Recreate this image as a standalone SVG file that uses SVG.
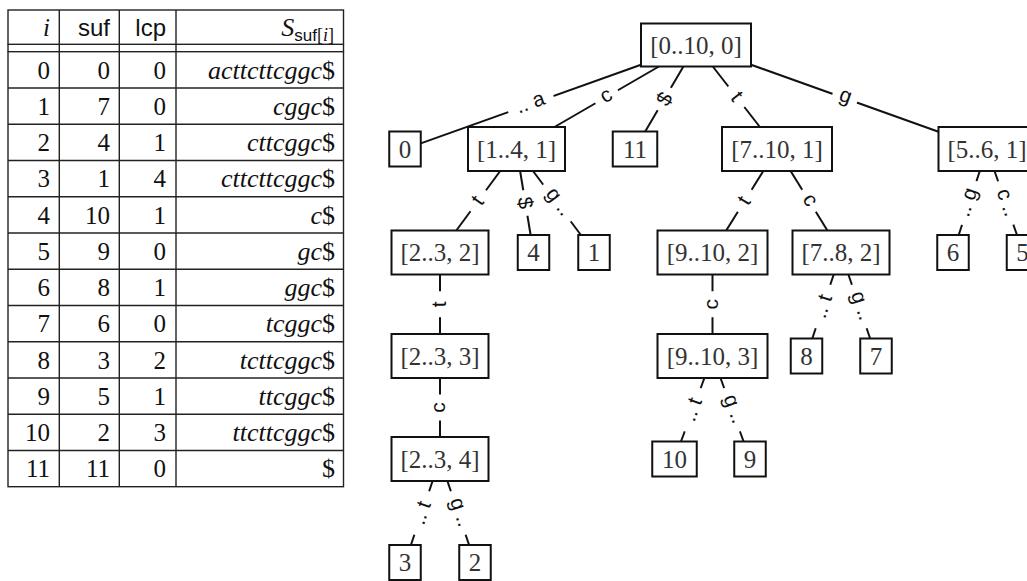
<svg xmlns="http://www.w3.org/2000/svg" width="1027" height="581" viewBox="0 0 1027 581">
<style>
.box{fill:#fff;stroke:#111;stroke-width:2}
.edge{stroke:#111;stroke-width:2;fill:none}
.nt{font-family:"Liberation Serif",serif;font-size:25px;fill:#333;text-anchor:middle}
.lbl{font-family:"Liberation Sans",sans-serif;font-size:21px;fill:#111;text-anchor:middle}
.lbg{fill:#fff}
.tl{stroke:#222;stroke-width:1.4;fill:none}
.td{font-family:"Liberation Serif",serif;font-size:25px;fill:#111;text-anchor:end}
.ss{font-size:26px}
.it{font-style:italic}
.sf{font-family:"Liberation Sans",sans-serif;font-size:24px}
</style>
<rect width="1027" height="581" fill="#fff"/>
<g id="table">
<rect class="tl" x="8" y="10" width="335.5" height="34.3"/>
<rect class="tl" x="8" y="51.7" width="335.5" height="435"/>
<line class="tl" x1="8" y1="44.3" x2="8" y2="51.7"/>
<line class="tl" x1="343.5" y1="44.3" x2="343.5" y2="51.7"/>
<line class="tl" x1="59.3" y1="10" x2="59.3" y2="486.7"/>
<line class="tl" x1="119.3" y1="10" x2="119.3" y2="486.7"/>
<line class="tl" x1="176" y1="10" x2="176" y2="486.7"/>
<g class="tl">
<line x1="8" y1="87.95" x2="343.5" y2="87.95"/>
<line x1="8" y1="124.2" x2="343.5" y2="124.2"/>
<line x1="8" y1="160.45" x2="343.5" y2="160.45"/>
<line x1="8" y1="196.7" x2="343.5" y2="196.7"/>
<line x1="8" y1="232.95" x2="343.5" y2="232.95"/>
<line x1="8" y1="269.2" x2="343.5" y2="269.2"/>
<line x1="8" y1="305.45" x2="343.5" y2="305.45"/>
<line x1="8" y1="341.7" x2="343.5" y2="341.7"/>
<line x1="8" y1="377.95" x2="343.5" y2="377.95"/>
<line x1="8" y1="414.2" x2="343.5" y2="414.2"/>
<line x1="8" y1="450.45" x2="343.5" y2="450.45"/>
</g>
<text class="td it" x="50" y="36">i</text>
<text class="td sf" x="110" y="36">suf</text>
<text class="td sf" x="166" y="36">lcp</text>
<text class="td" x="334" y="36"><tspan class="it" style="font-size:26px">S</tspan><tspan dy="5" style="font-family:'Liberation Sans',sans-serif;font-size:17px">suf</tspan><tspan style="font-size:18px">[</tspan><tspan class="it" style="font-size:18px">i</tspan><tspan style="font-size:18px">]</tspan></text>
<g class="td">
<text x="50" y="78.5">0</text><text x="110" y="78.5">0</text><text x="166" y="78.5">0</text><text class="ss" x="335" y="78.5"><tspan class="it">acttcttcggc</tspan>$</text>
<text x="50" y="114.75">1</text><text x="110" y="114.75">7</text><text x="166" y="114.75">0</text><text class="ss" x="335" y="114.75"><tspan class="it">cggc</tspan>$</text>
<text x="50" y="151">2</text><text x="110" y="151">4</text><text x="166" y="151">1</text><text class="ss" x="335" y="151"><tspan class="it">cttcggc</tspan>$</text>
<text x="50" y="187.25">3</text><text x="110" y="187.25">1</text><text x="166" y="187.25">4</text><text class="ss" x="335" y="187.25"><tspan class="it">cttcttcggc</tspan>$</text>
<text x="50" y="223.5">4</text><text x="110" y="223.5">10</text><text x="166" y="223.5">1</text><text class="ss" x="335" y="223.5"><tspan class="it">c</tspan>$</text>
<text x="50" y="259.75">5</text><text x="110" y="259.75">9</text><text x="166" y="259.75">0</text><text class="ss" x="335" y="259.75"><tspan class="it">gc</tspan>$</text>
<text x="50" y="296">6</text><text x="110" y="296">8</text><text x="166" y="296">1</text><text class="ss" x="335" y="296"><tspan class="it">ggc</tspan>$</text>
<text x="50" y="332.25">7</text><text x="110" y="332.25">6</text><text x="166" y="332.25">0</text><text class="ss" x="335" y="332.25"><tspan class="it">tcggc</tspan>$</text>
<text x="50" y="368.5">8</text><text x="110" y="368.5">3</text><text x="166" y="368.5">2</text><text class="ss" x="335" y="368.5"><tspan class="it">tcttcggc</tspan>$</text>
<text x="50" y="404.75">9</text><text x="110" y="404.75">5</text><text x="166" y="404.75">1</text><text class="ss" x="335" y="404.75"><tspan class="it">ttcggc</tspan>$</text>
<text x="50" y="441">10</text><text x="110" y="441">2</text><text x="166" y="441">3</text><text class="ss" x="335" y="441"><tspan class="it">ttcttcggc</tspan>$</text>
<text x="50" y="477.25">11</text><text x="110" y="477.25">11</text><text x="166" y="477.25">0</text><text class="ss" x="335" y="477.25">$</text>
</g>
</g>
<g id="connectors">
<g class="edge">
<line x1="641" y1="64.7" x2="420.75" y2="143.4"/>
<line x1="658.9" y1="66.5" x2="554.5" y2="127"/>
<line x1="683.4" y1="66.5" x2="645.2" y2="131.5"/>
<line x1="712.8" y1="66.5" x2="759.9" y2="127"/>
<line x1="751" y1="64.7" x2="938.5" y2="131.7"/>
<line x1="500.2" y1="171" x2="456.3" y2="230.5"/>
<line x1="520.1" y1="171" x2="530.6" y2="235"/>
<line x1="533" y1="171" x2="580.9" y2="235"/>
<line x1="763.3" y1="171" x2="726.2" y2="230.5"/>
<line x1="790.6" y1="171" x2="827.4" y2="230.5"/>
<line x1="979.8" y1="171" x2="958.7" y2="235"/>
<line x1="994.5" y1="171" x2="1017" y2="235"/>
<line x1="440" y1="274.5" x2="440" y2="334"/>
<line x1="440" y1="378" x2="440" y2="437"/>
<line x1="712.5" y1="274.5" x2="712.5" y2="334"/>
<line x1="833.7" y1="274.5" x2="812.3" y2="338.5"/>
<line x1="848.4" y1="274.5" x2="870.1" y2="338.5"/>
<line x1="704.4" y1="378" x2="681" y2="441.5"/>
<line x1="720.5" y1="378" x2="743.6" y2="441.5"/>
<line x1="432.6" y1="481" x2="410.9" y2="545"/>
<line x1="447.4" y1="481" x2="469.1" y2="545"/>
</g>
<g transform="translate(530.9 104.05) rotate(-19.67)"><rect class="lbg" x="-24" y="-11" width="48" height="22"/><text class="lbl" y="5">.. a</text></g>
<g transform="translate(606.7 96.75) rotate(-30.09)"><rect class="lbg" x="-13" y="-11" width="26" height="22"/><text class="lbl" y="5">c</text></g>
<g transform="translate(664.3 99) rotate(-59.6)"><rect class="lbg" x="-13" y="-11" width="26" height="22"/><text class="lbl" y="7">$</text></g>
<g transform="translate(736.3 96.75) rotate(52.09)"><rect class="lbg" x="-13" y="-11" width="26" height="22"/><text class="lbl" y="6">t</text></g>
<g transform="translate(844.75 98.2) rotate(19.67)"><rect class="lbg" x="-13" y="-11" width="26" height="22"/><text class="lbl" y="4">g</text></g>
<g transform="translate(478.25 200.75) rotate(-53.53)"><rect class="lbg" x="-13" y="-11" width="26" height="22"/><text class="lbl" y="6">t</text></g>
<g transform="translate(525.35 203) rotate(80.67)"><rect class="lbg" x="-13" y="-11" width="26" height="22"/><text class="lbl" y="7">$</text></g>
<g transform="translate(556.95 203) rotate(53.18)"><rect class="lbg" x="-23" y="-11" width="46" height="22"/><text class="lbl" y="4">g ..</text></g>
<g transform="translate(744.75 200.75) rotate(-58.07)"><rect class="lbg" x="-13" y="-11" width="26" height="22"/><text class="lbl" y="6">t</text></g>
<g transform="translate(809 200.75) rotate(58.27)"><rect class="lbg" x="-13" y="-11" width="26" height="22"/><text class="lbl" y="5">c</text></g>
<g transform="translate(969.25 203) rotate(-71.81)"><rect class="lbg" x="-23" y="-11" width="46" height="22"/><text class="lbl" y="4">.. g</text></g>
<g transform="translate(1005.75 203) rotate(71.07)"><rect class="lbg" x="-23" y="-11" width="46" height="22"/><text class="lbl" y="5">c ..</text></g>
<g transform="translate(440 304.25) rotate(-90)"><rect class="lbg" x="-13" y="-11" width="26" height="22"/><text class="lbl" y="6">t</text></g>
<g transform="translate(440 407.5) rotate(-90)"><rect class="lbg" x="-13" y="-11" width="26" height="22"/><text class="lbl" y="5">c</text></g>
<g transform="translate(712.5 304.25) rotate(-90)"><rect class="lbg" x="-13" y="-11" width="26" height="22"/><text class="lbl" y="5">c</text></g>
<g transform="translate(823 306.5) rotate(-71.57)"><rect class="lbg" x="-23" y="-11" width="46" height="22"/><text class="lbl" y="6">.. t</text></g>
<g transform="translate(859.25 306.5) rotate(71.3)"><rect class="lbg" x="-23" y="-11" width="46" height="22"/><text class="lbl" y="4">g ..</text></g>
<g transform="translate(692.7 409.75) rotate(-69.75)"><rect class="lbg" x="-23" y="-11" width="46" height="22"/><text class="lbl" y="6">.. t</text></g>
<g transform="translate(732.05 409.75) rotate(70)"><rect class="lbg" x="-23" y="-11" width="46" height="22"/><text class="lbl" y="4">g ..</text></g>
<g transform="translate(421.75 513) rotate(-71.3)"><rect class="lbg" x="-23" y="-11" width="46" height="22"/><text class="lbl" y="6">.. t</text></g>
<g transform="translate(458.25 513) rotate(71.3)"><rect class="lbg" x="-23" y="-11" width="46" height="22"/><text class="lbl" y="4">g ..</text></g>
</g>
<g id="n-root"><rect class="box" x="641" y="23.5" width="110" height="43"/><text class="nt" x="696" y="53.5">[0..10, 0]</text></g>
<g id="n-0"><rect class="box" x="389.25" y="131.5" width="31.5" height="35"/><text class="nt" x="405" y="157.5">0</text></g>
<g id="n-1-4-1"><rect class="box" x="468" y="127" width="97" height="44"/><text class="nt" x="516.5" y="157.5">[1..4, 1]</text></g>
<g id="n-11"><rect class="box" x="612.75" y="131.5" width="44.5" height="35"/><text class="nt" x="635" y="157.5">11</text></g>
<g id="n-7-10-1"><rect class="box" x="722" y="127" width="110" height="44"/><text class="nt" x="777" y="157.5">[7..10, 1]</text></g>
<g id="n-5-6-1"><rect class="box" x="938.5" y="127" width="97" height="44"/><text class="nt" x="987" y="157.5">[5..6, 1]</text></g>
<g id="n-2-3-2"><rect class="box" x="391.5" y="230.5" width="97" height="44"/><text class="nt" x="440" y="261">[2..3, 2]</text></g>
<g id="n-4"><rect class="box" x="517.75" y="235" width="31.5" height="35"/><text class="nt" x="533.5" y="261">4</text></g>
<g id="n-1"><rect class="box" x="578.25" y="235" width="31.5" height="35"/><text class="nt" x="594" y="261">1</text></g>
<g id="n-9-10-2"><rect class="box" x="657.5" y="230.5" width="110" height="44"/><text class="nt" x="712.5" y="261">[9..10, 2]</text></g>
<g id="n-7-8-2"><rect class="box" x="792.5" y="230.5" width="97" height="44"/><text class="nt" x="841" y="261">[7..8, 2]</text></g>
<g id="n-6"><rect class="box" x="937.25" y="235" width="31.5" height="35"/><text class="nt" x="953" y="261">6</text></g>
<g id="n-5"><rect class="box" x="1006.75" y="235" width="31.5" height="35"/><text class="nt" x="1022.5" y="261">5</text></g>
<g id="n-2-3-3"><rect class="box" x="391.5" y="334" width="97" height="44"/><text class="nt" x="440" y="364.5">[2..3, 3]</text></g>
<g id="n-9-10-3"><rect class="box" x="657.5" y="334" width="110" height="44"/><text class="nt" x="712.5" y="364.5">[9..10, 3]</text></g>
<g id="n-8"><rect class="box" x="790.75" y="338.5" width="31.5" height="35"/><text class="nt" x="806.5" y="364.5">8</text></g>
<g id="n-7"><rect class="box" x="860.25" y="338.5" width="31.5" height="35"/><text class="nt" x="876" y="364.5">7</text></g>
<g id="n-2-3-4"><rect class="box" x="391.5" y="437" width="97" height="44"/><text class="nt" x="440" y="467.5">[2..3, 4]</text></g>
<g id="n-10"><rect class="box" x="652.25" y="441.5" width="44.5" height="35"/><text class="nt" x="674.5" y="467.5">10</text></g>
<g id="n-9"><rect class="box" x="734.25" y="441.5" width="31.5" height="35"/><text class="nt" x="750" y="467.5">9</text></g>
<g id="n-3"><rect class="box" x="389.25" y="545" width="31.5" height="35"/><text class="nt" x="405" y="571">3</text></g>
<g id="n-2"><rect class="box" x="459.25" y="545" width="31.5" height="35"/><text class="nt" x="475" y="571">2</text></g>
</svg>
